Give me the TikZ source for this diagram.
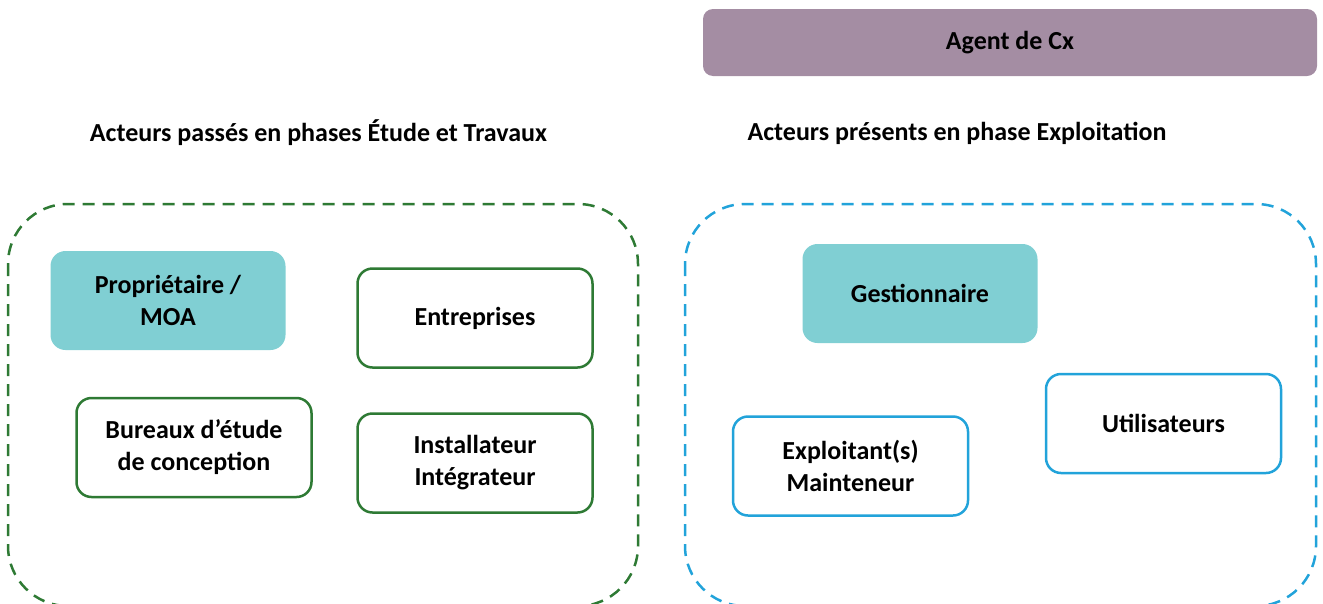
\documentclass[tikz,border=0pt]{standalone}
\usepackage{fontspec}
\setmainfont{Carlito}
\usepackage{xcolor}
\usepackage{tikz}
\usetikzlibrary{positioning}

\definecolor{cxpurple}{HTML}{A48DA3}
\definecolor{moateal}{HTML}{80CFD3}
\definecolor{etgreen}{HTML}{2E7A34}
\definecolor{exblue}{HTML}{22A3DA}

\begin{document}
\begin{tikzpicture}[x=1pt,y=-1pt,
  every node/.style={font=\fontsize{26}{32}\selectfont\bfseries,align=center},
  actor/.style={rectangle,rounded corners=15pt,minimum width=235pt,minimum height=99pt,line width=2.5pt,fill=white},
  owner/.style={actor,fill=moateal,draw=none},
  past/.style={actor,draw=etgreen},
  present/.style={actor,draw=exblue},
  group/.style={rounded corners=60pt,line width=2.5pt,dash pattern=on 12pt off 8pt}]
\useasboundingbox (0,0) rectangle (1323,603);

% agent
\node[rectangle,rounded corners=10pt,fill=cxpurple,minimum width=614pt,minimum height=67pt] (agent) at (1010,42.5) {Agent de Cx};

% titres
\node (ttlpast) at (318.5,133) {Acteurs passés en phases Étude et Travaux};
\node (ttlnow) at (957,133) {Acteurs présents en phase Exploitation};

% groupes
\draw[group,draw=etgreen] (8,204) rectangle (638,606);
\draw[group,draw=exblue] (685,204) rectangle (1316,606);

% etude et travaux
\node[owner] (moa) at (168,300.5) {Propriétaire /\\MOA};
\node[past] (entr) at (475,318) {Entreprises};
\node[past] (be) at (194,447.5) {Bureaux d’étude\\de conception};
\node[past] (inst) at (475,463) {Installateur\\Intégrateur};

% exploitation
\node[owner] (gest) at (920,293.5) {Gestionnaire};
\node[present] (util) at (1163.5,423.5) {Utilisateurs};
\node[present] (expl) at (850.5,466) {Exploitant(s)\\Mainteneur};
\end{tikzpicture}
\end{document}
